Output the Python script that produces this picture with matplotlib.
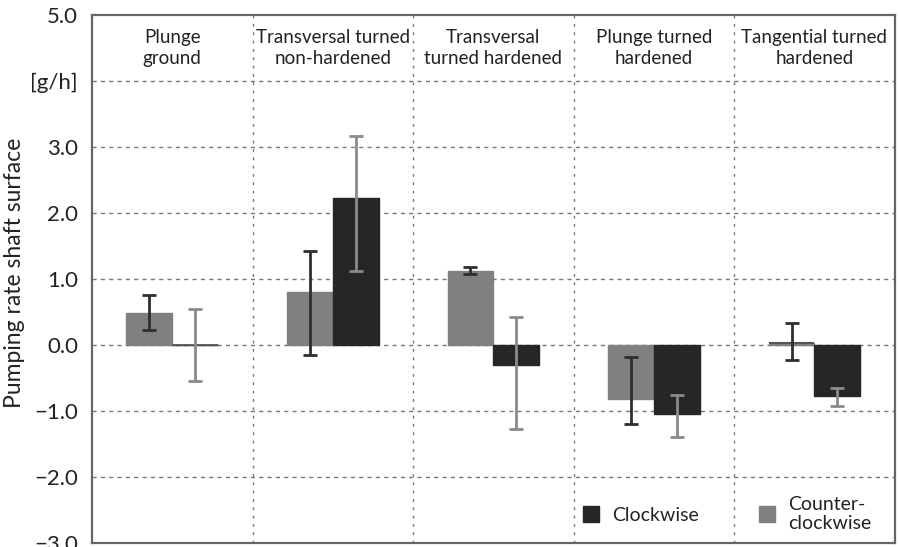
import numpy as np
import matplotlib
matplotlib.use('Agg')
import matplotlib.pyplot as plt
from matplotlib.lines import Line2D

plt.rcParams['font.family'] = ['Lato', 'DejaVu Sans']

categories = ['Plunge\nground', 'Transversal turned\nnon-hardened', 'Transversal\nturned hardened',
              'Plunge turned\nhardened', 'Tangential turned\nhardened']

# counter-clockwise (grey bars)
ccw_val = [0.48, 0.80, 1.12, -0.82, 0.03]
ccw_lo = [0.23, -0.15, 1.07, -1.19, -0.23]
ccw_hi = [0.75, 1.42, 1.18, -0.18, 0.33]

# clockwise (black bars)
cw_val = [0.0, 2.22, -0.30, -1.05, -0.77]
cw_lo = [-0.55, 1.12, -1.28, -1.40, -0.92]
cw_hi = [0.55, 3.17, 0.42, -0.75, -0.65]

ytick_vals = [5, 4, 3, 2, 1, 0, -1, -2, -3]
ytick_labels = ['5.0', '[g/h]', '3.0', '2.0', '1.0', '0.0', '\u22121.0', '\u22122.0', '\u22123.0']

grey = '#808080'
dark = '#262626'
bw = 0.285

fig = plt.figure(figsize=(8.98, 5.47), dpi=100)
ax = fig.add_axes([0.1024, 0.0073, 0.894, 0.9653])

x = np.arange(len(categories)) + 0.5
ccw_val = np.array(ccw_val)
cw_val = np.array(cw_val)
ccw_err = [ccw_val - np.array(ccw_lo), np.array(ccw_hi) - ccw_val]
cw_err = [cw_val - np.array(cw_lo), np.array(cw_hi) - cw_val]

ax.bar(x - bw / 2, ccw_val, bw, color=grey, edgecolor=grey, linewidth=1, zorder=3)
ax.bar(x + bw / 2, cw_val, bw, color=dark, edgecolor=dark, linewidth=1, zorder=3)
# zero-height bars show as flat line
ax.hlines([0], x[0] + 0.0, x[0] + bw, color='#555555', lw=1.2, zorder=3)
ax.hlines([0.03], x[4] - bw, x[4], color='#555555', lw=1.5, zorder=3)

ax.errorbar(x - bw / 2, ccw_val, yerr=ccw_err, fmt='none', ecolor='#2e2e2e',
            elinewidth=2, capsize=5, capthick=2, zorder=4)
ax.errorbar(x + bw / 2, cw_val, yerr=cw_err, fmt='none', ecolor='#8a8a8a',
            elinewidth=2, capsize=5, capthick=2, zorder=4)

ax.set_xlim(0, 5)
ax.set_ylim(-3, 5)
ax.set_xticks([])
ax.set_yticks(ytick_vals)
ax.set_yticklabels(ytick_labels, fontsize=16, color='#222222')
ax.tick_params(axis='y', length=0, pad=10)

for v in ytick_vals[1:-1]:
    ax.axhline(v, color='#777777', lw=1, ls=(0, (3, 3)), zorder=1)
for b in range(1, 5):
    ax.axvline(b, color='#777777', lw=1, ls=(0, (2, 4)), zorder=1)

for s in ax.spines.values():
    s.set_color('#666666')
    s.set_linewidth(1.6)

for xi, lab in zip(x, categories):
    ax.text(xi, 4.5, lab, ha='center', va='center', fontsize=13.5, color='#222222',
            linespacing=1.3)

ax.set_ylabel('Pumping rate shaft surface', fontsize=16.5, color='#222222')
ax.yaxis.set_label_coords(-0.083, 0.511)

handles = [Line2D([], [], marker='s', ls='none', color=dark, markersize=11),
           Line2D([], [], marker='s', ls='none', color=grey, markersize=11)]
ax.legend(handles, ['Clockwise', 'Counter-\nclockwise'], ncol=2, frameon=False,
          loc='center left', bbox_to_anchor=(0.597, 0.055), fontsize=14,
          borderpad=0, handletextpad=0.6, columnspacing=3.0, handlelength=1,
          labelcolor='#222222')

fig.savefig('out.png', dpi=100)
